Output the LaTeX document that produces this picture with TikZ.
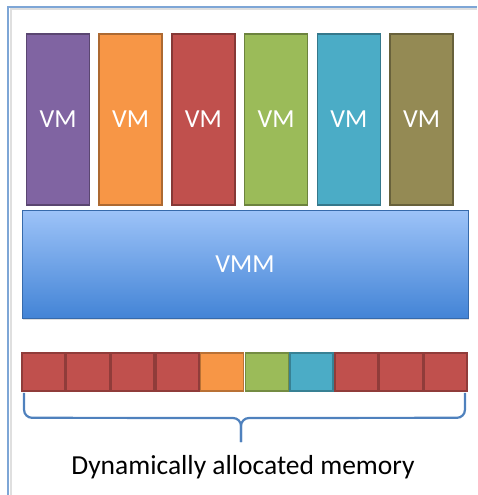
\documentclass[tikz,border=0pt]{standalone}
\usepackage{fontspec}
\setmainfont{Carlito}
\usepackage{xcolor}
\usetikzlibrary{positioning,shadows}
\definecolor{vmpurple}{HTML}{8064A2}
\definecolor{vmorange}{HTML}{F79646}
\definecolor{vmred}{HTML}{C0504D}
\definecolor{vmgreen}{HTML}{9BBB59}
\definecolor{vmcyan}{HTML}{4BACC6}
\definecolor{vmolive}{HTML}{948A54}
\definecolor{vmmtop}{HTML}{9DC3F8}
\definecolor{vmmmid}{HTML}{86B2F0}
\definecolor{vmmbot}{HTML}{4384D6}
\definecolor{framecol}{HTML}{7EA6D6}
\definecolor{bracecol}{HTML}{4F81BD}
\tikzstyle{vmbox} = [rectangle, draw, line width=1.6pt, minimum width=63pt, minimum height=171pt, text=white, font=\fontsize{26}{30}\selectfont]
\tikzstyle{vmmbox} = [rectangle, draw=vmmbot!80!black, line width=0.8pt, minimum width=446pt, minimum height=108pt, top color=vmmtop, middle color=vmmmid, bottom color=vmmbot, text=white, font=\fontsize{26}{30}\selectfont, drop shadow={shadow xshift=1pt, shadow yshift=-2pt, opacity=0.25}]
\tikzstyle{cell} = [rectangle, draw, line width=1.6pt, minimum width=43pt, minimum height=38pt]
\tikzstyle{brace} = [draw=bracecol, line width=2.2pt, rounded corners=8pt]

\begin{document}
\begin{tikzpicture}[x=1pt,y=-1pt]
\useasboundingbox (0,0) rectangle (477,495);
% outer frame
\draw [gray!25, line width=2pt] (10.5,495) -- (10.5,9.5) -- (477,9.5);
\draw [framecol, line width=1.5pt] (8,495) -- (8,7) -- (477,7);
% virtual machines
\foreach \c [count=\i] in {vmpurple,vmorange,vmred,vmgreen,vmcyan,vmolive}
  \node [vmbox, fill=\c, draw=\c!70!black] (vm\i) at ({58+72.7*(\i-1)},119.5) {VM};
\node [vmmbox] (vmm) at (245,264) {VMM};
% memory cells
\foreach \c [count=\i] in {vmred,vmred,vmred,vmred,vmorange,vmgreen,vmcyan,vmred,vmred,vmred}
  \node [cell, fill=\c, draw=\c!75!black] (c\i) at ({21+44.7*(\i-0.5)},372) {};
\coordinate (tip) at (241,442);
\path [brace] ([xshift=3pt,yshift=-1pt]c1.south west) -- ([xshift=3pt,yshift=-26pt]c1.south west) -- (tip |- 0,418) -- (tip);
\path [brace] ([xshift=-3pt,yshift=-1pt]c10.south east) -- ([xshift=-3pt,yshift=-26pt]c10.south east) -- (tip |- 0,418) -- (tip);
\node [font=\fontsize{27.5}{32}\selectfont] (label) at (243,467) {Dynamically allocated memory};
\end{tikzpicture}
\end{document}
